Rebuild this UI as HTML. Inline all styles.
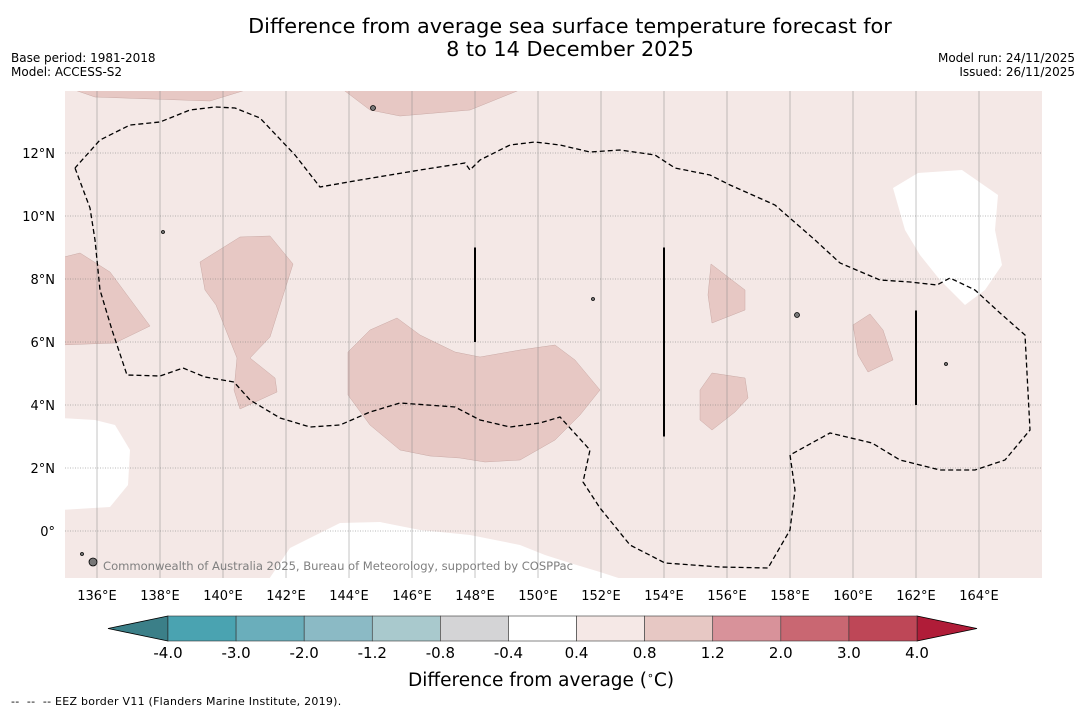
<!DOCTYPE html>
<html><head><meta charset="utf-8"><style>
body{margin:0;background:#fff;font-family:"DejaVu Sans","Liberation Sans",sans-serif;}
#root{position:relative;width:1085px;height:713px;overflow:hidden;background:#fff}
.t{position:absolute;white-space:nowrap;color:#000}
</style></head><body>
<div id="root">
<div class="t" style="left:0;width:1140px;top:15px;text-align:center;font-size:20.8px;line-height:23px">Difference from average sea surface temperature forecast for<br>8 to 14 December 2025</div>
<div class="t" style="left:11px;top:51px;font-size:12px;line-height:14px">Base period: 1981-2018<br>Model: ACCESS-S2</div>
<div class="t" style="right:10px;top:51px;font-size:12px;line-height:14px;text-align:right">Model run: 24/11/2025<br>Issued: 26/11/2025</div>
<svg id="svg" width="1085" height="713" style="position:absolute;left:0;top:0"></svg>
<div class="t" style="left:408px;top:669px;font-size:18.5px">Difference from average (<sup style="font-size:11px">∘</sup>C)</div>
<div class="t" style="left:11px;top:695px;font-size:11px;letter-spacing:0.25px">-- &nbsp;-- &nbsp;-- EEZ border V11 (Flanders Marine Institute, 2019).</div>
</div>
<script>
const lonTicks=[136,138,140,142,144,146,148,150,152,154,156,158,160,162,164];
const latTicks=[0,2,4,6,8,10,12];
const cbLevels=[-4.0,-3.0,-2.0,-1.2,-0.8,-0.4,0.4,0.8,1.2,2.0,3.0,4.0];
const cbColors=["#4aa3b1","#6aaebb","#8bbac5","#a9c9cd","#d4d4d6","#ffffff","#f5e8e6","#e7c8c4","#d8929a","#c96772","#be4757"];
const NS="http://www.w3.org/2000/svg";
const svg=document.getElementById('svg');
const X=lon=>97+(lon-136)*31.5, Y=lat=>531-lat*31.5;
function mk(t,a,p){const e=document.createElementNS(NS,t);for(const k in a)e.setAttribute(k,a[k]);(p||svg).appendChild(e);return e;}
const L=65,R=1042,T=91,B=578;
const clip=mk('clipPath',{id:'cl'});mk('rect',{x:L,y:T,width:R-L,height:B-T},clip);
const g=mk('g',{'clip-path':'url(#cl)'});
const bg=mk('rect',{x:L,y:T,width:R-L,height:B-T,fill:'#f4e8e6'},g);


const dark=["60,85 95,97 210,101 262,85","337,85 370,110 400,116 470,110 532,85",
"60,258 80,253 110,272 150,326 115,343 60,345",
"200,262 240,237 270,236 293,264 270,337 250,358 275,378 277,392 240,409 234,390 237,358 216,305 205,290",
"348,352 370,330 397,318 420,335 455,352 480,357 520,350 555,345 575,360 600,390 580,415 555,440 520,460 485,462 460,458 430,456 400,450 370,425 348,395",
"711,264 745,290 745,310 712,323 708,295","700,390 712,373 745,378 748,398 735,412 712,430 700,420",
"853,325 870,314 883,330 893,360 868,372 858,355"];
dark.forEach(p=>{const e=mk('polygon',{points:p,fill:'#e7c8c4',stroke:'#c9a9a5','stroke-width':0.5},g);

});
const white=["893,188 918,173 962,170 998,195 995,230 1002,265 985,290 965,305 940,280 920,255 905,230",
"60,418 95,420 115,425 130,450 128,485 110,507 60,510",
"265,585 290,548 340,523 380,522 420,530 470,535 520,545 545,555 570,563 600,572 640,585"];
white.forEach(p=>{const e=mk('polygon',{points:p,fill:'#ffffff'},g);

});
lonTicks.forEach(l=>{const e=mk('line',{x1:X(l),x2:X(l),y1:T,y2:B,stroke:'#888','stroke-width':0.5},g);


const t=mk('text',{x:X(l),y:600,'font-size':13,'text-anchor':'middle','font-family':'DejaVu Sans, sans-serif'});t.textContent=l+'°E';

});
latTicks.forEach(l=>{const e=mk('line',{x1:L,x2:R,y1:Y(l),y2:Y(l),stroke:'#777','stroke-width':0.6,'stroke-dasharray':'1,1.5'},g);


const t=mk('text',{x:55,y:Y(l)+5,'font-size':13,'text-anchor':'end','font-family':'DejaVu Sans, sans-serif'});t.textContent=l===0?'0°':l+'°N';

});
const eez="75,168 90,208 95,240 100,290 112,330 127,375 160,376 183,368 205,377 234,382 250,400 280,418 310,427 340,425 370,412 400,403 455,407 480,420 510,427 540,423 560,417 590,450 583,482 600,508 630,545 665,563 720,567 768,568 790,530 795,490 790,455 830,433 872,443 900,460 940,470 975,470 1005,460 1030,430 1025,335 1000,313 975,290 950,278 937,285 910,282 880,280 840,263 815,240 775,205 730,185 710,175 675,168 655,155 620,150 590,152 560,145 535,142 510,145 480,160 470,170 465,163 420,170 360,180 320,187 295,155 260,118 235,108 215,107 190,110 160,122 130,125 100,140 75,168";
const ez=mk('polyline',{points:eez,fill:'none',stroke:'#000','stroke-width':1.3,'stroke-dasharray':'5,3'},g);


[[148,9,6],[154,9,3],[162,7,4]].forEach(v=>{const e=mk('line',{x1:X(v[0]),x2:X(v[0]),y1:Y(v[1]),y2:Y(v[2]),stroke:'#000','stroke-width':2},g);

});
[[373,108,2.5],[797,315,2.5],[93,562,4],[163,232,1.5],[593,299,1.5],[946,364,1.5],[82,554,1.5]].forEach(p=>{const e=mk('circle',{cx:p[0],cy:p[1],r:p[2],fill:'#777',stroke:'#000','stroke-width':0.8},g);

});
const cr=mk('text',{x:103,y:570,'font-size':11.6,fill:'#808080','font-family':'DejaVu Sans, sans-serif',textLength:470},g);cr.textContent='Commonwealth of Australia 2025, Bureau of Meteorology, supported by COSPPac';


// colorbar
const cx0=168,cx1=917,cy=616,ch=25,w=(cx1-cx0)/cbColors.length;
const lt=mk('polygon',{points:`${cx0},${cy} ${cx0},${cy+ch} 108,${cy+ch/2}`,fill:'#3b7f88',stroke:'#000','stroke-width':0.8});


const rt=mk('polygon',{points:`${cx1},${cy} ${cx1},${cy+ch} 977,${cy+ch/2}`,fill:'#b01c38',stroke:'#000','stroke-width':0.8});


cbColors.forEach((c,i)=>{const e=mk('rect',{x:cx0+i*w,y:cy,width:w,height:ch,fill:c,stroke:'#333','stroke-width':0.6});

});
cbLevels.forEach((v,i)=>{const t=mk('text',{x:cx0+i*w,y:658,'font-size':15,'text-anchor':'middle','font-family':'DejaVu Sans, sans-serif'});t.textContent=v.toFixed(1);

});
</script>
</body></html>
